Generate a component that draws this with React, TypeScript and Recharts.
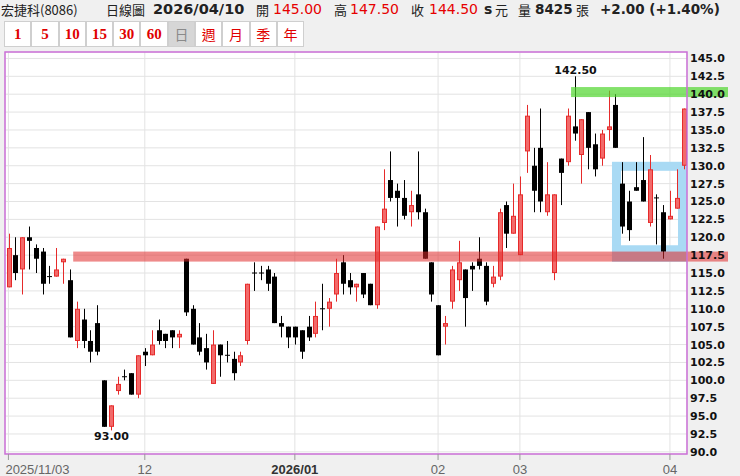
import { Bar, CartesianGrid, ComposedChart, ReferenceArea, XAxis, YAxis } from "recharts";

// daily candles, 2025/11/03 .. 2026/04 (one entry per trading day)
const opens = [
  113.0, 117.5, 115.5, 120.0, 118.5, 118.0, 114.5, 114.5, 116.5, 114.0,
  105.5, 108.5, 105.5, 108.0, 100.0, 93.5, 98.5, 100.5, 101.0, 98.0,
  104.0, 103.5, 107.0, 106.5, 107.0, 106.0, 117.0, 110.0, 106.0, 104.5,
  99.5, 105.0, 103.5, 103.0, 102.5, 105.5, 115.0, 115.0, 115.5, 114.5,
  108.0, 107.5, 107.5, 107.0, 107.5, 106.5, 110.0, 110.0, 112.0, 116.5,
  114.0, 113.0, 115.0, 113.5, 110.5, 122.0, 128.0, 126.5, 125.5, 123.5,
  126.0, 123.5, 116.5, 110.5, 107.5, 111.0, 114.0, 115.5, 116.0, 117.0,
  116.0, 113.5, 114.5, 124.5, 120.5, 117.5, 132.0, 130.0, 132.5, 123.5,
  115.0, 131.0, 130.5, 135.5, 131.5, 137.5, 133.0, 131.0, 135.0, 138.5,
  127.5, 125.0, 127.0, 128.0, 122.0, 125.5, 123.5, 122.5, 124.0, 130.0,
];
const highs = [
  120.5, 120.0, 120.0, 121.5, 119.0, 118.5, 116.0, 118.5, 117.0, 115.5,
  111.0, 110.0, 107.0, 110.5, 100.0, 96.5, 100.5, 101.5, 101.0, 103.5,
  104.5, 107.0, 108.5, 106.5, 107.0, 107.0, 117.0, 110.5, 108.0, 106.5,
  107.0, 105.0, 105.5, 104.0, 104.0, 113.5, 116.5, 116.0, 116.0, 115.0,
  109.0, 107.5, 107.5, 107.0, 109.0, 111.0, 113.5, 111.5, 117.0, 117.5,
  115.0, 113.5, 115.0, 113.5, 121.5, 129.5, 132.0, 127.5, 128.0, 126.5,
  132.0, 124.0, 116.5, 110.5, 109.0, 116.0, 119.5, 115.5, 116.5, 120.0,
  116.5, 116.0, 124.0, 125.0, 127.5, 128.5, 138.5, 132.5, 138.0, 130.5,
  126.0, 131.0, 138.0, 142.5, 136.5, 137.5, 134.5, 135.0, 140.5, 140.0,
  130.5, 126.5, 130.5, 134.0, 131.5, 126.0, 124.5, 126.5, 129.5, 138.0,
];
const lows = [
  113.0, 114.0, 112.0, 115.5, 115.0, 112.0, 113.5, 114.5, 113.5, 106.0,
  104.5, 104.5, 102.5, 103.5, 93.5, 93.0, 98.0, 100.0, 98.0, 97.5,
  102.0, 103.5, 105.0, 104.5, 104.5, 104.5, 109.0, 105.0, 103.5, 101.5,
  99.5, 100.5, 102.5, 100.0, 102.0, 105.0, 112.5, 114.0, 112.5, 108.0,
  106.0, 104.5, 105.0, 103.0, 105.5, 106.0, 107.0, 107.5, 111.0, 112.0,
  112.0, 111.0, 111.5, 110.5, 110.0, 121.0, 125.0, 121.5, 122.5, 121.5,
  122.5, 117.0, 111.0, 103.5, 105.0, 110.0, 112.5, 107.5, 112.5, 115.5,
  110.5, 113.0, 114.0, 118.5, 120.5, 117.5, 129.0, 123.5, 123.5, 123.0,
  114.0, 124.5, 130.0, 133.5, 127.5, 129.5, 128.5, 130.0, 133.5, 132.5,
  120.5, 119.5, 126.5, 125.0, 121.5, 119.0, 117.0, 122.5, 124.0, 129.5,
];
const closes = [
  118.5, 115.0, 120.0, 119.5, 117.0, 113.5, 114.5, 115.5, 117.0, 106.0,
  110.0, 105.5, 104.0, 104.0, 93.5, 96.5, 99.5, 100.5, 98.0, 103.5,
  103.5, 105.0, 105.5, 105.5, 106.0, 106.5, 109.5, 105.0, 104.0, 102.5,
  105.0, 103.5, 103.5, 101.0, 103.5, 113.5, 115.0, 115.0, 113.5, 108.0,
  107.5, 106.0, 106.0, 104.0, 106.0, 109.0, 110.0, 111.0, 115.0, 113.5,
  113.0, 113.5, 112.0, 110.5, 121.5, 124.0, 125.5, 125.5, 123.0, 124.5,
  123.5, 117.0, 112.0, 103.5, 108.0, 115.5, 116.5, 111.5, 115.5, 116.0,
  111.0, 114.5, 123.5, 120.5, 123.0, 126.0, 137.0, 126.5, 125.0, 126.0,
  126.0, 129.0, 137.0, 134.5, 136.5, 132.5, 129.5, 134.5, 135.5, 132.5,
  121.5, 121.0, 126.5, 125.0, 129.5, 125.5, 118.0, 123.0, 125.5, 138.0,
];

const dateTicks = [0, 20, 42, 63, 75, 97];
const dateLabels = ["2025/11/03", "12", "2026/01", "02", "03", "04"];
const priceTicks = [
  90, 92.5, 95, 97.5, 100, 102.5, 105, 107.5, 110, 112.5, 115, 117.5,
  120, 122.5, 125, 127.5, 130, 132.5, 135, 137.5, 140, 142.5, 145,
];

// drawn zones
const supportZone = [116.6, 118.0];
const resistanceZone = [139.6, 141.0];
const boxZone = [116.6, 130.55];
const supportFrom = 10;
const resistanceFrom = 83;
const boxFrom = 89;

const candles = opens.map((o, i) => ({ i, o, h: highs[i], l: lows[i], c: closes[i] }));
const lastIdx = candles.length - 1;
const hiIdx = highs.indexOf(Math.max(...highs));
const loIdx = lows.indexOf(Math.min(...lows));

const UP = "#e62a2a";
const UP_FILL = "#f26a6a";
const BOX = "#a9daf4";
const NUM_FONT = "'DejaVu Sans', Verdana, sans-serif";
const CJK_FONT = "'Noto Sans CJK TC', sans-serif";

function Candle(props: any) {
  const { x, y, width, height, payload } = props;
  const { o, h, l, c, i } = payload;
  const k = height / (h - l);
  const py = (v: number) => y + (h - v) * k;
  const cx = Math.round(x + width / 2) + 0.5;
  const up = c > o;
  const color = up ? UP : "#000";
  const top = py(Math.max(o, c));
  const bot = py(Math.min(o, c));
  return (
    <g>
      <line x1={cx} x2={cx} y1={py(h)} y2={py(l)} stroke={color} />
      {c === o ? (
        <line x1={cx - 2.5} x2={cx + 2.5} y1={top} y2={top} stroke="#000" />
      ) : up ? (
        <rect x={cx - 2} y={top + 0.5} width={4} height={Math.max(bot - top - 1, 0.5)} fill={UP_FILL} stroke={UP} />
      ) : (
        <rect x={cx - 2.5} y={top} width={5} height={bot - top} fill="#000" />
      )}
      {i === hiIdx && (
        <text x={cx} y={py(h) - 2} textAnchor="middle" fontSize={11} fontWeight="bold" fontFamily={NUM_FONT} fill="#111">
          {h.toFixed(2)}
        </text>
      )}
      {i === loIdx && (
        <text x={cx} y={py(l) + 10} textAnchor="middle" fontSize={11} fontWeight="bold" fontFamily={NUM_FONT} fill="#111">
          {l.toFixed(2)}
        </text>
      )}
    </g>
  );
}

// zones run on past the right edge, over the price labels
const overhang = 41;
const band = (fill: string, opacity: number) => (p: any) => (
  <rect x={p.x} y={p.y} width={p.width + overhang} height={p.height} fill={fill} fillOpacity={opacity} />
);

const boxFrame = (p: any) => {
  const t = 9;
  return (
    <rect x={p.x + t / 2} y={p.y + t / 2} width={p.width - t} height={p.height - t} fill="none" stroke={BOX} strokeWidth={t} />
  );
};

function DateTick(props: any) {
  const { x, y, payload } = props;
  const k = dateTicks.indexOf(payload.value);
  const label = dateLabels[k] ?? "";
  const isYear = label.length === 7;
  return (
    <g>
      <line x1={x} x2={x} y1={y - 8} y2={y - 2} stroke="#999" />
      <text
        x={k === 0 ? x - 3 : x}
        y={y + 12}
        textAnchor={k === 0 ? "start" : "middle"}
        fontSize={13}
        fontFamily="'Liberation Sans', Arial, sans-serif"
        fontWeight={isYear ? "bold" : "normal"}
        fill={isYear ? "#333" : "#666"}
      >
        {label}
      </text>
    </g>
  );
}

function PriceTick(props: any) {
  const { x, y, payload } = props;
  return (
    <text x={x} y={y + 4} textAnchor="start" fontSize={11} fontWeight="bold" fontFamily={NUM_FONT} fill="#111">
      {Number(payload.value).toFixed(1)}
    </text>
  );
}

function Header() {
  const at = (left: number, extra: any = {}) => ({
    position: "absolute" as const,
    left,
    top: 0,
    lineHeight: "19px",
    whiteSpace: "nowrap" as const,
    color: "#222",
    fontFamily: NUM_FONT,
    fontSize: 14,
    ...extra,
  });
  const cjk = { fontFamily: CJK_FONT, fontSize: 13 };
  const red = { color: "#e60000" };
  return (
    <>
      <span style={at(1, cjk)}>宏捷科(8086)</span>
      <span style={at(106, cjk)}>日線圖</span>
      <span style={at(153, { fontWeight: "bold", fontSize: 14.5 })}>2026/04/10</span>
      <span style={at(256, cjk)}>開</span>
      <span style={at(273, red)}>145.00</span>
      <span style={at(334, cjk)}>高</span>
      <span style={at(350, red)}>147.50</span>
      <span style={at(411, cjk)}>收</span>
      <span style={at(429, red)}>144.50</span>
      <span style={at(484, { fontWeight: "bold" })}>s</span>
      <span style={at(495, cjk)}>元</span>
      <span style={at(518, cjk)}>量</span>
      <span style={at(535, { fontWeight: "bold", fontSize: 13.5 })}>8425</span>
      <span style={at(576, cjk)}>張</span>
      <span style={at(600, { fontWeight: "bold", fontSize: 13.5 })}>+2.00 (+1.40%)</span>
    </>
  );
}

const periods = ["1", "5", "10", "15", "30", "60", "日", "週", "月", "季", "年"];
const activePeriod = "日";

function PeriodButtons() {
  return (
    <div style={{ position: "absolute", left: 4, top: 21, display: "flex" }}>
      {periods.map((p) => {
        const active = p === activePeriod;
        const numeric = /\d/.test(p);
        return (
          <div
            key={p}
            style={{
              boxSizing: "border-box",
              width: 27.3,
              height: 26,
              border: "1px solid #cfcfcf",
              background: active ? "#d6d6d6" : "#fff",
              color: active ? "#8a8a8a" : "#e00000",
              display: "flex",
              alignItems: "center",
              justifyContent: "center",
              fontFamily: numeric ? "'Liberation Serif', serif" : CJK_FONT,
              fontWeight: numeric ? "bold" : "normal",
              fontSize: numeric ? 15 : 14,
            }}
          >
            {p}
          </div>
        );
      })}
    </div>
  );
}

export default function App() {
  return (
    <div style={{ position: "relative", width: 740, height: 476, background: "#f0f0f0", overflow: "hidden" }}>
      <style>{"body{margin:0}"}</style>
      <div style={{ position: "absolute", left: 0, top: 0 }}>
        <ComposedChart width={740} height={476} data={candles} margin={{ top: 52, right: 0, bottom: 0, left: 5 }}>
          <CartesianGrid stroke="#e3e3e3" fill="#fff" />
          <XAxis
            dataKey="i"
            ticks={dateTicks}
            interval={0}
            height={22}
            axisLine={false}
            tickLine={false}
            tickSize={6}
            tickMargin={2}
            tick={<DateTick />}
          />
          <YAxis
            orientation="right"
            width={53}
            domain={[89.7, 145.9]}
            ticks={priceTicks}
            interval={0}
            axisLine={false}
            tickLine={false}
            tickSize={0}
            tickMargin={3}
            tick={<PriceTick />}
          />
          <ReferenceArea
            x1={boxFrom}
            x2={lastIdx}
            y1={boxZone[0]}
            y2={boxZone[1]}
            shape={boxFrame}
            ifOverflow="visible"
          />
          <ReferenceArea
            x1={boxFrom}
            x2={lastIdx}
            y1={boxZone[0]}
            y2={supportZone[1] + 0.9}
            fill={BOX}
            fillOpacity={1}
            stroke="none"
            ifOverflow="visible"
          />
          <Bar dataKey={(d: any) => [d.l, d.h]} shape={(p: any) => <Candle {...p} />} barSize={5} isAnimationActive={false} />
          <ReferenceArea
            x1={supportFrom}
            x2={lastIdx}
            y1={supportZone[0]}
            y2={supportZone[1]}
            shape={band("#e02a2a", 0.55)}
            ifOverflow="visible"
            zIndex={700}
          />
          <ReferenceArea
            x1={resistanceFrom}
            x2={lastIdx}
            y1={resistanceZone[0]}
            y2={resistanceZone[1]}
            shape={band("#4fd62c", 0.7)}
            ifOverflow="visible"
            zIndex={710}
          />
          <ReferenceArea
            x1={0}
            x2={lastIdx}
            y1={89.7}
            y2={145.9}
            fill="none"
            stroke="#cc70d8"
            strokeWidth={1.5}
            ifOverflow="visible"
            zIndex={800}
          />
        </ComposedChart>
      </div>
      <Header />
      <PeriodButtons />
    </div>
  );
}
